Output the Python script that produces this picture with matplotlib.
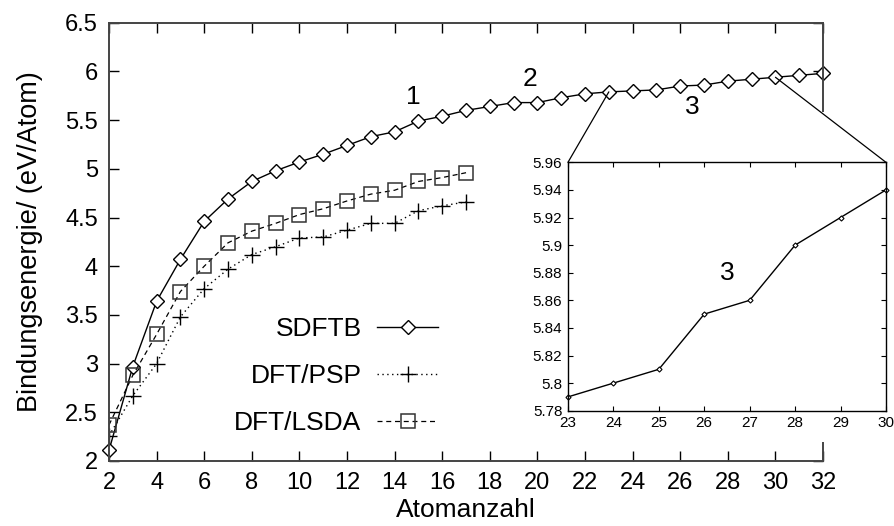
import matplotlib
matplotlib.use('Agg')
import matplotlib.pyplot as plt
from matplotlib.patches import Rectangle, ConnectionPatch
from matplotlib.ticker import FuncFormatter

plt.rcParams['font.family'] = ['Liberation Sans', 'DejaVu Sans']

# binding energies (eV/atom) vs. cluster size
n_sdftb = list(range(2, 33))
e_sdftb = [2.11, 2.97, 3.64, 4.07, 4.46, 4.69, 4.87, 4.98, 5.07, 5.15, 5.24,
           5.33, 5.38, 5.49, 5.54, 5.60, 5.64, 5.68, 5.68, 5.73, 5.77,
           5.79, 5.80, 5.81, 5.85, 5.86, 5.90, 5.92, 5.94, 5.96, 5.98]

n_dft = list(range(2, 18))
e_psp = [2.26, 2.67, 3.00, 3.48, 3.77, 3.97, 4.12, 4.20, 4.29, 4.30, 4.37,
         4.44, 4.44, 4.57, 4.62, 4.66]
e_lsda = [2.37, 2.88, 3.30, 3.74, 4.00, 4.24, 4.36, 4.44, 4.53, 4.59, 4.67,
          4.74, 4.78, 4.87, 4.91, 4.96]

zoom_lo, zoom_hi = 23, 30
xticks = list(range(2, 33, 2))
yticks = [2, 2.5, 3, 3.5, 4, 4.5, 5, 5.5, 6, 6.5]
inset_yticks = [5.78, 5.80, 5.82, 5.84, 5.86, 5.88, 5.90, 5.92, 5.94, 5.96]

fmt = FuncFormatter(lambda v, pos: '%g' % round(v, 2))

fig = plt.figure(figsize=(8.95, 5.26), dpi=100)
ax = fig.add_axes([0.1218, 0.1236, 0.7978, 0.8332])

ax.plot(n_sdftb, e_sdftb, color='black', lw=1.0, marker='D', ms=7,
        mfc='white', mec='black', mew=1.0, label='SDFTB', clip_on=False)
ax.plot(n_dft, e_psp, color='black', lw=1.0, ls=(0, (1, 2.5)), marker='+',
        ms=11, mew=1.0, label='DFT/PSP')
ax.plot(n_dft, e_lsda, color='black', lw=0.9, ls=(0, (4, 3)), marker='s',
        ms=10, mfc='none', mec='#333333', mew=1.1, label='DFT/LSDA')

ax.set_xlim(2, 32)
ax.set_ylim(2, 6.5)
ax.set_xticks(xticks)
ax.set_yticks(yticks)
ax.yaxis.set_major_formatter(fmt)
ax.tick_params(direction='in', length=7, width=1.0, labelsize=17,
               top=True, right=True, pad=8)
for sp in ax.spines.values():
    sp.set_color('#444444')
    sp.set_linewidth(1.4)

ax.set_xlabel('Atomanzahl', fontsize=19, labelpad=3)
ax.set_ylabel('Bindungsenergie/ (eV/Atom)', fontsize=19.5, labelpad=16)

ax.text(14.8, 5.74, '1', fontsize=19, ha='center', va='center')
ax.text(19.7, 5.92, '2', fontsize=19, ha='center', va='center')
# sits on top of the white area, so it goes on the figure
fig.text(26.5, 5.63, '3', fontsize=19, ha='center', va='center',
         transform=ax.transData, zorder=3)

ax.legend(loc='center right', bbox_to_anchor=(438 / 895, 1 - 376 / 526),
          bbox_transform=fig.transFigure, frameon=False, markerfirst=False,
          fontsize=19, handlelength=2.3, handletextpad=0.6,
          labelspacing=0.88, borderpad=0, borderaxespad=0)

# white area behind the zoomed view
fig.patches.append(Rectangle((0.581, 0.1597), 0.419, 0.6273,
                             transform=fig.transFigure, facecolor='white',
                             edgecolor='none', zorder=1))

axin = fig.add_axes([0.6346, 0.2192, 0.3553, 0.4722])
axin.set_zorder(2)
idx = [i for i, n in enumerate(n_sdftb) if zoom_lo <= n <= zoom_hi]
axin.plot([n_sdftb[i] for i in idx], [e_sdftb[i] for i in idx],
          color='black', lw=1.0, marker='D', ms=2.6, mfc='white',
          mec='black', mew=0.8, clip_on=False)
axin.set_xlim(zoom_lo, zoom_hi)
axin.set_ylim(5.78, 5.96)
axin.set_xticks(range(zoom_lo, zoom_hi + 1))
axin.set_yticks(inset_yticks)
axin.yaxis.set_major_formatter(fmt)
axin.tick_params(direction='in', length=3.5, width=0.8, labelsize=11,
                 top=True, right=True, pad=4)
for sp in axin.spines.values():
    sp.set_color('black')
    sp.set_linewidth(1.0)
axin.text(26.5, 5.88, '3', fontsize=19, ha='center', va='center')

# lines from the curve to the zoomed view
i_lo = n_sdftb.index(zoom_lo)
i_hi = n_sdftb.index(zoom_hi)
for xa, ya, xb in [(zoom_lo, e_sdftb[i_lo], zoom_lo),
                   (zoom_hi, e_sdftb[i_hi], zoom_hi)]:
    con = ConnectionPatch(xyA=(xa, ya), coordsA=ax.transData,
                          xyB=(xb, 5.96), coordsB=axin.transData,
                          color='black', lw=0.9, zorder=3)
    fig.add_artist(con)

fig.savefig('out.png', dpi=100)
